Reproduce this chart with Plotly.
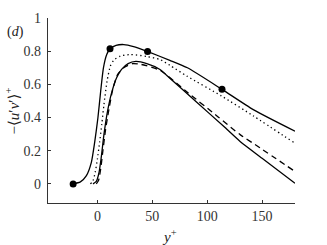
import plotly.graph_objects as go

# Upper solid curve
up_x = [-22.1, -15.5, -10, -5.5, -2.5, 0.5, 3.0, 5.5, 8.5, 11.5, 17, 24, 33, 46, 66, 82, 113.5, 142, 180]
up_y = [0.0, 0.012, 0.05, 0.13, 0.25, 0.40, 0.56, 0.70, 0.78, 0.815, 0.835, 0.840, 0.828, 0.797, 0.745, 0.70, 0.570, 0.448, 0.318]

# Dotted curve
dot_x = [-6.4, -4.0, -2.0, 0.0, 2.0, 4.0, 6.0, 8.8, 11.8, 14.8, 20.9, 30, 45, 57, 66, 81.5, 113, 142, 180]
dot_y = [0.0, 0.02, 0.07, 0.15, 0.25, 0.36, 0.48, 0.62, 0.71, 0.745, 0.77, 0.78, 0.768, 0.75, 0.715, 0.65, 0.53, 0.41, 0.245]

# Dashed curve
dash_x = [-1, 1, 3, 5, 7.5, 10.5, 14, 18.5, 24, 32, 40, 57, 80, 110, 130, 148, 180]
dash_y = [0.0, 0.02, 0.09, 0.2, 0.33, 0.45, 0.57, 0.66, 0.70, 0.725, 0.72, 0.685, 0.563, 0.404, 0.297, 0.218, 0.075]

# Lower solid curve
low_x = [-4, -1, 1.5, 3.5, 6, 9, 13, 17.5, 22, 28, 35, 45, 57, 66, 90, 115, 130, 150, 180]
low_y = [0.0, 0.015, 0.07, 0.16, 0.30, 0.43, 0.55, 0.64, 0.69, 0.725, 0.738, 0.725, 0.69, 0.637, 0.495, 0.347, 0.256, 0.155, 0.004]

# Markers
mk_x = [-22.1, 11.5, 45.7, 113.5]
mk_y = [0.0, 0.815, 0.798, 0.570]

x_ticks = [0, 50, 100, 150]
y_ticks = [0, 0.2, 0.4, 0.6, 0.8, 1]
y_tick_labels = ["0", "0.2", "0.4", "0.6", "0.8", "1"]

FONT = "Liberation Serif, DejaVu Serif, serif"
fig = go.Figure()
common = dict(mode="lines", line_shape="spline", hoverinfo="skip", showlegend=False)
fig.add_trace(go.Scatter(x=low_x, y=low_y, line=dict(color="black", width=1.3, smoothing=0.6), **common))
fig.add_trace(go.Scatter(x=dash_x, y=dash_y, line=dict(color="black", width=1.3, dash="6px,4px", smoothing=0.6), **common))
fig.add_trace(go.Scatter(x=dot_x, y=dot_y, line=dict(color="black", width=1.3, dash="1.3px,3px", smoothing=0.6), **common))
fig.add_trace(go.Scatter(x=up_x, y=up_y, line=dict(color="black", width=1.3, smoothing=0.6), **common))
fig.add_trace(go.Scatter(x=mk_x, y=mk_y, mode="markers", marker=dict(color="black", size=7),
                         hoverinfo="skip", showlegend=False))

axis_common = dict(showgrid=False, zeroline=False, showline=True, linecolor="#333", linewidth=1.2,
                   ticks="inside", ticklen=3, tickwidth=1, tickcolor="#333",
                   tickfont=dict(family=FONT, size=14, color="#333"))
fig.update_xaxes(range=[-45, 180], tickvals=x_ticks, ticktext=[str(v) for v in x_ticks], **axis_common)
fig.update_yaxes(range=[-0.115, 1.0], tickvals=y_ticks, ticktext=y_tick_labels, ticklabelstandoff=3, **axis_common)

fig.update_layout(
    width=327, height=245,
    margin=dict(l=48, r=32, t=18, b=42),
    paper_bgcolor="white", plot_bgcolor="white",
    annotations=[
        dict(text="(<i>d</i>)", xref="paper", yref="paper", x=-0.13, y=0.924, showarrow=False,
             font=dict(family=FONT, size=14, color="#222"), xanchor="center", yanchor="middle"),
        dict(text="−⟨<i>u</i>′<i>v</i>′⟩<sup>+</sup>", xref="paper", yref="paper", x=-0.146, y=0.5,
             textangle=-90, showarrow=False, font=dict(family=FONT, size=15, color="#222"),
             xanchor="center", yanchor="middle"),
        dict(text="<i>y</i><sup>+</sup>", xref="paper", yref="paper", x=0.49, y=-0.178, showarrow=False,
             font=dict(family=FONT, size=15, color="#222"), xanchor="center", yanchor="middle"),
    ],
)
fig.write_html("out.html", config={"displayModeBar": False, "staticPlot": True},
               post_script="document.body.style.margin='0';document.body.style.overflow='hidden';")
